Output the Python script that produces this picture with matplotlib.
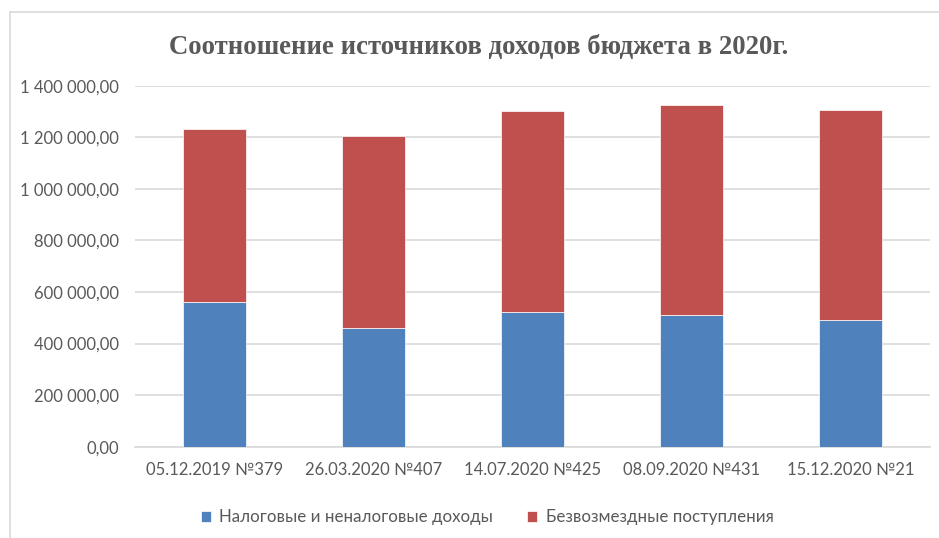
import matplotlib
matplotlib.use('Agg')
import matplotlib.pyplot as plt
from matplotlib.lines import Line2D

# данные диаграммы
categories = ['05.12.2019 №379', '26.03.2020 №407', '14.07.2020 №425',
              '08.09.2020 №431', '15.12.2020 №21']
tax_income = [560000, 459000, 522000, 510000, 491000]
free_income = [671000, 747000, 779000, 816000, 816000]
series_names = ['Налоговые и неналоговые доходы', 'Безвозмездные поступления']
y_ticks = [0, 200000, 400000, 600000, 800000, 1000000, 1200000, 1400000]

blue = '#4F81BD'
red = '#C0504D'
text_color = '#595959'

plt.rcParams['font.family'] = ['Lato', 'DejaVu Sans']

fig = plt.figure(figsize=(9.39, 5.38), dpi=100)
ax = fig.add_axes([0.1438, 0.1697, 0.8466, 0.671])

x = range(len(categories))
ax.bar(x, tax_income, width=0.40, color=blue, label=series_names[0], zorder=3,
       edgecolor='white', linewidth=0.5)
ax.bar(x, free_income, width=0.40, bottom=tax_income, color=red,
       label=series_names[1], zorder=3, edgecolor='white', linewidth=0.5)

ax.set_xlim(-0.5, len(categories) - 0.5)
ax.set_ylim(0, 1400000)
ax.set_yticks(y_ticks)

def fmt(v):
    return f'{v:,.2f}'.replace(',', ' ').replace('.', ',')

ax.set_yticklabels([fmt(v) for v in y_ticks])
ax.set_xticks(list(x))
ax.set_xticklabels(categories)
ax.tick_params(axis='both', length=0, labelsize=12, colors=text_color)
ax.tick_params(axis='y', pad=11.5)
ax.tick_params(axis='x', pad=11)

ax.grid(axis='y', color='#D9D9D9', linewidth=1.2, zorder=0)
for s in ['top', 'right', 'left']:
    ax.spines[s].set_visible(False)
ax.spines['bottom'].set_color('#D9D9D9')
ax.spines['bottom'].set_linewidth(1.2)

fig.text(0.51, 0.912, 'Соотношение источников доходов бюджета в 2020г.',
         ha='center', va='center', fontsize=19.3, fontweight='bold',
         family='Liberation Serif', color=text_color)

ax.legend(loc='center', bbox_to_anchor=(0.443, -0.195), ncol=2, frameon=False,
          fontsize=12.2, labelcolor=text_color, handlelength=0.6, handleheight=0.6,
          handletextpad=0.5, columnspacing=2.0)

# рамка диаграммы (видны только верх и левый край)
fig.add_artist(Line2D([0.0105, 1.0], [0.978, 0.978], color='#D9D9D9', linewidth=1.2))
fig.add_artist(Line2D([0.0105, 0.0105], [0.0, 0.978], color='#D9D9D9', linewidth=1.2))

fig.savefig('out.png', dpi=100)
